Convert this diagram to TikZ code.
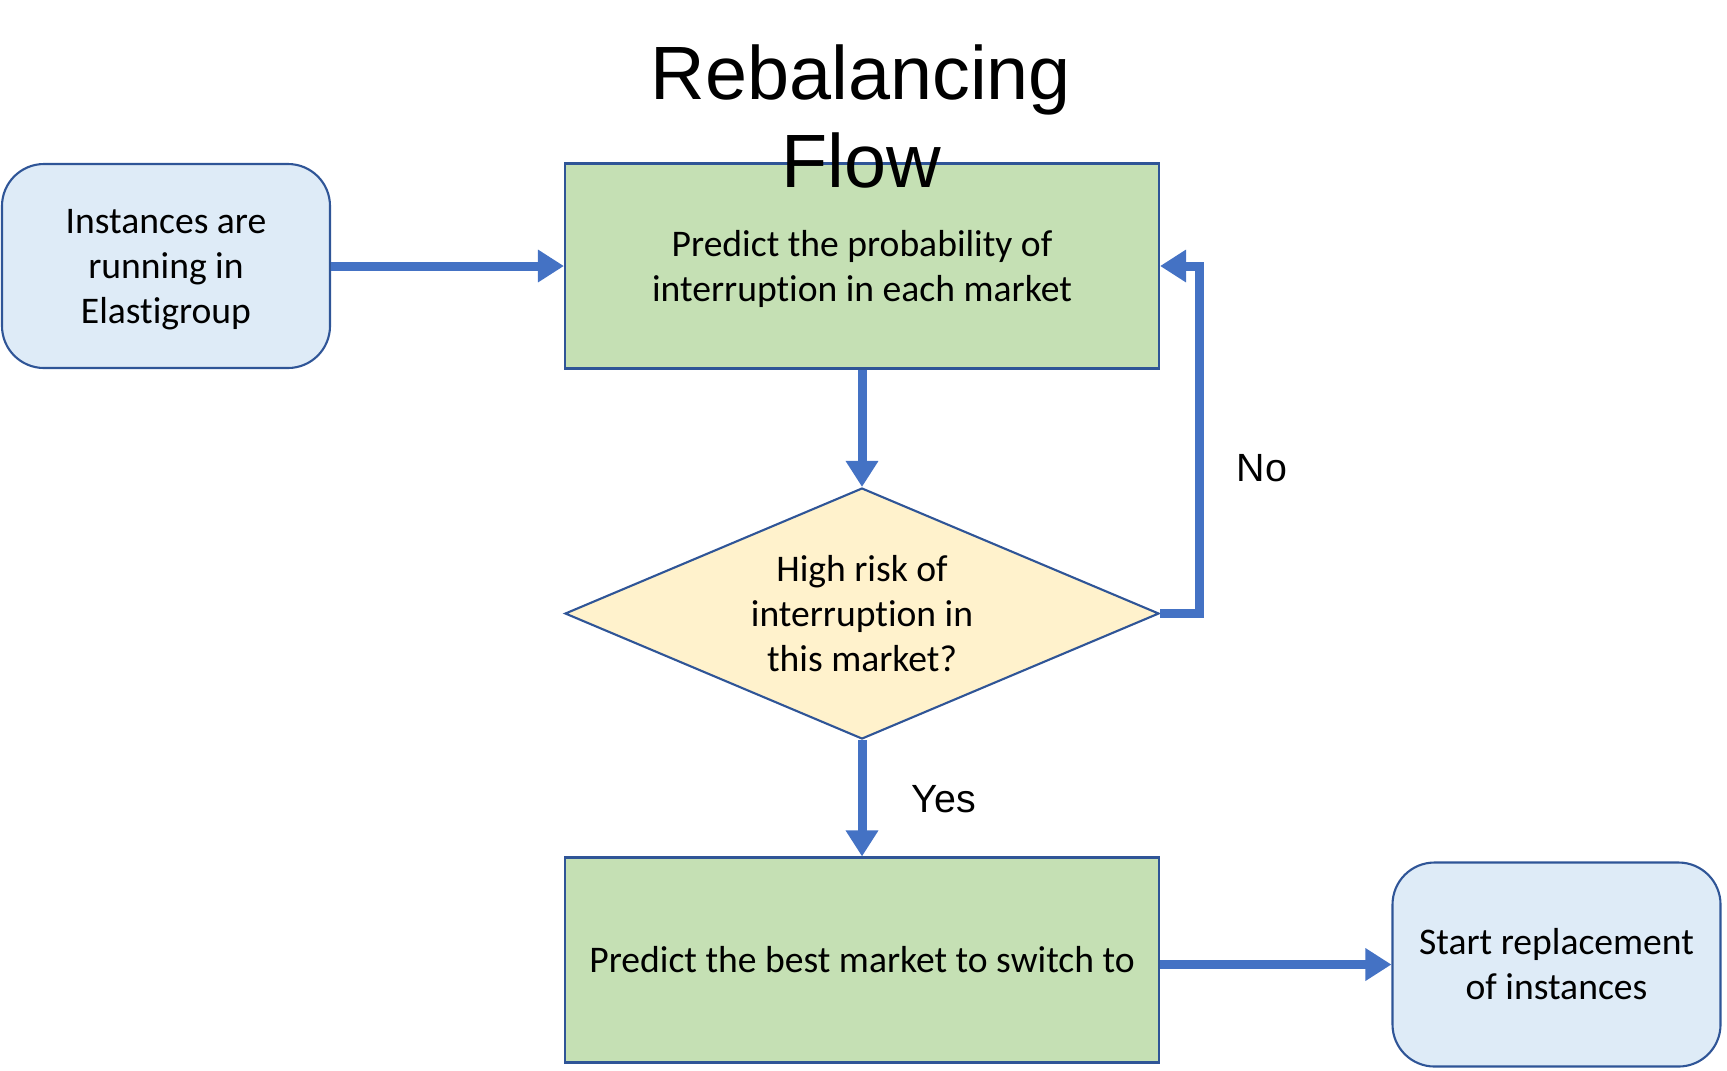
\documentclass[tikz,border=0pt]{standalone}
\usepackage{fontspec}
\setmainfont{Carlito}[Ligatures = NoCommon]
\newfontfamily\arialfont{Liberation Sans}
\usetikzlibrary{shapes.geometric,arrows.meta}
\definecolor{startfill}{HTML}{DEEBF7}
\definecolor{stepfill}{HTML}{C5E0B4}
\definecolor{askfill}{HTML}{FFF2CC}
\definecolor{edgeline}{HTML}{2F5597}
\definecolor{flowline}{HTML}{4472C4}
\begin{document}
\begin{tikzpicture}[
	endbox/.style = {draw = edgeline, fill = startfill, line width = 0.6pt,
					 rounded corners = 4.2mm, align = center,
					 minimum width = 3.28cm, minimum height = 2.04cm,
					 font = \fontsize{10.7}{12.8}\selectfont},
	taskbox/.style = {draw = edgeline, fill = stepfill, line width = 0.6pt,
					  align = center, minimum width = 5.94cm, minimum height = 2.05cm,
					  font = \fontsize{10.7}{12.8}\selectfont},
	askbox/.style = {draw = edgeline, fill = askfill, line width = 0.6pt,
					 shape = diamond, aspect = 2.37, align = center, inner sep = 0pt,
					 minimum width = 5.94cm, minimum height = 2.51cm,
					 font = \fontsize{10.7}{12.8}\selectfont},
	flow/.style = {draw = flowline, line width = 0.9mm,
				   -{Triangle[length = 2.6mm, width = 3.1mm]}},
	answer/.style = {font = \arialfont\fontsize{11.2}{13}\selectfont}]
	\useasboundingbox (0,0) rectangle (17.27,-10.70);

	\draw (1.66,-2.66) node[endbox, text depth = 0pt](running) {Instances are\\running in\\Elastigroup};
	\draw (8.62,-2.66) node[taskbox, text depth = 0pt](probab) {Predict the probability of\\interruption in each market};
	\draw (8.62,-6.135) node[askbox](risk) {High risk of\\interruption in\\this market?};
	\draw (8.62,-9.60) node[taskbox](best) {Predict the best market to switch to};
	\draw (15.565,-9.645) node[endbox](replace) {Start replacement\\of instances};

	\draw[flow] (running) -- (probab);
	\draw[flow] (probab) -- (risk);
	\draw[flow] (risk.east) -- ++(0.39,0) |- (probab.east);
	\draw[flow] (risk) -- (best);
	\draw[flow] (best.east |- replace.west) -- (replace.west);

	\node[answer] (no) at (12.62,-4.68) {No};
	\node[answer] (yes) at (9.44,-7.99) {Yes};

	% title sits over the top box
	\node[anchor = base, font = \arialfont\fontsize{21.5}{25}\selectfont] (title1) at (8.61,-0.99) {Rebalancing};
	\node[anchor = base, font = \arialfont\fontsize{21.5}{25}\selectfont] (title2) at (8.61,-1.87) {Flow};
\end{tikzpicture}
\end{document}
